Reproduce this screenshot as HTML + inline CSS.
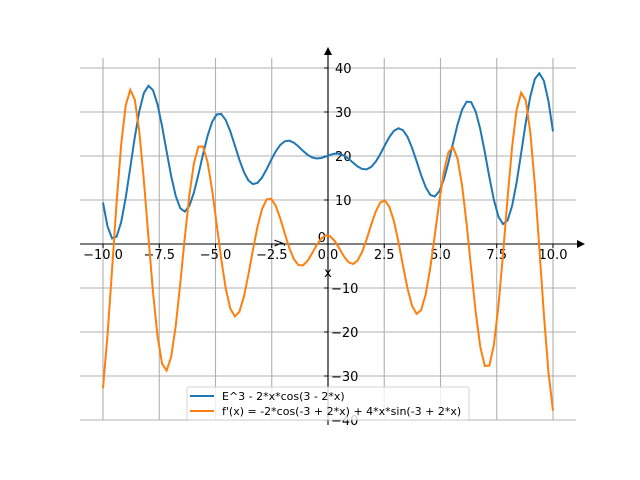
<!DOCTYPE html>
<html><head><style>body{margin:0;background:#fff}svg{display:block}text{font-family:"DejaVu Sans","Liberation Sans",sans-serif}</style></head>
<body>
<svg id="s" width="640" height="480" xmlns="http://www.w3.org/2000/svg">
<g id="grid" stroke="#b0b0b0" stroke-width="1.1"></g>
<line x1="80" y1="244" x2="578" y2="244" stroke="#000" stroke-width="1.1"/>
<polygon points="585,244 577,240 577,248" fill="#000"/>
<line x1="328" y1="425" x2="328" y2="54" stroke="#000" stroke-width="1.1"/>
<polygon points="328,47 324,55 332,55" fill="#000"/>
<g id="ticks" font-size="13" fill="#000"></g>
<text x="328" y="277" font-size="13" text-anchor="middle">x</text>
<text x="0" y="0" font-size="13" text-anchor="middle" transform="translate(282,243) rotate(-90)">y</text>
<path id="p1" fill="none" stroke="#1f77b4" stroke-width="2"/>
<path id="p2" fill="none" stroke="#ff7f0e" stroke-width="2"/>
<rect x="187" y="387" width="282" height="33" rx="2" fill="#fff" fill-opacity="0.8" stroke="#ccc" stroke-opacity="0.8"/>
<line x1="190" y1="396" x2="214" y2="396" stroke="#1f77b4" stroke-width="2"/>
<line x1="190" y1="411" x2="214" y2="411" stroke="#ff7f0e" stroke-width="2"/>
<text x="222" y="400" font-size="11">E^3 - 2*x*cos(3 - 2*x)</text>
<text x="222" y="415" font-size="11">f'(x) = -2*cos(-3 + 2*x) + 4*x*sin(-3 + 2*x)</text>
</svg>
<script>
var X=function(x){return 328+x*22.5},Y=function(y){return 244-y*4.4};
var g=document.getElementById('grid'),t=document.getElementById('ticks'),ns="http://www.w3.org/2000/svg";
function el(p,n,a,txt){var e=document.createElementNS(ns,n);for(var k in a)e.setAttribute(k,a[k]);if(txt)e.textContent=txt;p.appendChild(e);}
for(var i=-4;i<=4;i++){var v=i*2.5,px=X(v);el(g,'line',{x1:px,y1:58,x2:px,y2:420});
el(t,'line',{x1:px,y1:244,x2:px,y2:248,stroke:'#000'});
el(t,'text',{x:px,y:259,'text-anchor':'middle'},(v<0?'\u2212':'')+Math.abs(v).toFixed(1));}
for(var j=-4;j<=4;j++){var v=j*10,py=Y(v);el(g,'line',{x1:80,y1:py,x2:576,y2:py});
el(t,'line',{x1:324,y1:py,x2:328,y2:py,stroke:'#000'});
if(v==0)el(t,'text',{x:326,y:py-2,'text-anchor':'end'},'0');
else el(t,'text',{x:v<0?331:335,y:py+5},(v<0?'\u2212':'')+Math.abs(v));}
var a='',b='',N=100;
for(var k=0;k<N;k++){var x=-10+20*k/(N-1);
var f=Math.exp(3)-2*x*Math.cos(3-2*x);
var d=-2*Math.cos(-3+2*x)+4*x*Math.sin(-3+2*x);
a+=(k?'L':'M')+X(x).toFixed(2)+','+Y(f).toFixed(2);
b+=(k?'L':'M')+X(x).toFixed(2)+','+Y(d).toFixed(2);}
document.getElementById('p1').setAttribute('d',a);
document.getElementById('p2').setAttribute('d',b);
</script>
</body></html>
